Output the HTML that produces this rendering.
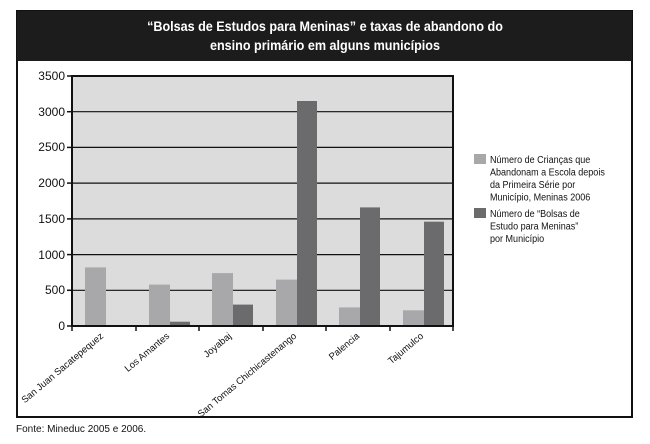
<!DOCTYPE html><html><head><style>body{margin:0;background:#fff}svg{display:block}</style></head><body>
<svg width="650" height="444" xmlns="http://www.w3.org/2000/svg" font-family="Liberation Sans, sans-serif">
<rect x="17" y="11" width="615" height="406" fill="#fff" stroke="#111" stroke-width="2"/>
<rect x="17" y="11" width="615" height="50" fill="#1c1c1c"/>
<g fill="#fff" font-weight="bold" font-size="14" text-anchor="middle">
<text x="325" y="31" transform="translate(325,0) scale(0.9,1) translate(-325,0)">“Bolsas de Estudos para Meninas” e taxas de abandono do</text>
<text x="325" y="50" transform="translate(325,0) scale(0.9,1) translate(-325,0)">ensino primário em alguns municípios</text>
</g>
<rect x="72" y="76" width="381" height="250" fill="#dcdcdc"/>
<g stroke="#111" stroke-width="1.2">
<line x1="72" x2="453" y1="111.7" y2="111.7"/><line x1="72" x2="453" y1="147.4" y2="147.4"/>
<line x1="72" x2="453" y1="183.1" y2="183.1"/><line x1="72" x2="453" y1="218.9" y2="218.9"/>
<line x1="72" x2="453" y1="254.6" y2="254.6"/><line x1="72" x2="453" y1="290.3" y2="290.3"/>
</g>
<g fill="#a8a8aa">
<rect x="85" y="267.4" width="21" height="58.6"/><rect x="149" y="284.6" width="21" height="41.4"/>
<rect x="212" y="273.1" width="21" height="52.9"/><rect x="276" y="279.6" width="21" height="46.4"/>
<rect x="339" y="307.4" width="21" height="18.6"/><rect x="403" y="310.3" width="21" height="15.7"/>
</g>
<g fill="#6b6b6e">
<rect x="170" y="321.7" width="20" height="4.3"/><rect x="233" y="304.6" width="20" height="21.4"/>
<rect x="297" y="101" width="20" height="225"/><rect x="360" y="207.4" width="20" height="118.6"/>
<rect x="424" y="221.7" width="20" height="104.3"/>
</g>
<rect x="72" y="76" width="381" height="250" fill="none" stroke="#111" stroke-width="2"/>
<g stroke="#111" stroke-width="1.5">
<line x1="67" x2="72" y1="76" y2="76"/><line x1="67" x2="72" y1="111.7" y2="111.7"/><line x1="67" x2="72" y1="147.4" y2="147.4"/><line x1="67" x2="72" y1="183.1" y2="183.1"/><line x1="67" x2="72" y1="218.9" y2="218.9"/><line x1="67" x2="72" y1="254.6" y2="254.6"/><line x1="67" x2="72" y1="290.3" y2="290.3"/><line x1="67" x2="72" y1="326" y2="326"/>
<line x1="72" x2="72" y1="326" y2="331"/><line x1="136" x2="136" y1="326" y2="331"/><line x1="199" x2="199" y1="326" y2="331"/><line x1="263" x2="263" y1="326" y2="331"/><line x1="326" x2="326" y1="326" y2="331"/><line x1="390" x2="390" y1="326" y2="331"/><line x1="453" x2="453" y1="326" y2="331"/>
</g>
<g font-size="12" text-anchor="end" fill="#111">
<text x="65" y="80">3500</text><text x="65" y="116">3000</text><text x="65" y="151">2500</text><text x="65" y="187">2000</text><text x="65" y="223">1500</text><text x="65" y="259">1000</text><text x="65" y="294">500</text><text x="65" y="330">0</text>
</g>
<g font-size="9.5" text-anchor="end" fill="#111">
<text transform="translate(104,337) rotate(-40)">San Juan Sacatepequez</text>
<text transform="translate(170,337) rotate(-40)">Los Amantes</text>
<text transform="translate(232,337) rotate(-40)">Joyabaj</text>
<text transform="translate(297,337) rotate(-40)">San Tomas Chichicastenango</text>
<text transform="translate(360,337) rotate(-40)">Palencia</text>
<text transform="translate(424,337) rotate(-40)">Tajumulco</text>
</g>
<rect x="474" y="154" width="12" height="10" fill="#a8a8aa"/>
<rect x="474" y="208" width="12" height="10" fill="#6b6b6e"/>
<g font-size="10.5" fill="#111" transform="translate(490,0) scale(0.86,1)">
<text x="0" y="163">Número de Crianças que</text>
<text x="0" y="175.5">Abandonam a Escola depois</text>
<text x="0" y="188">da Primeira Série por</text>
<text x="0" y="200.5">Município, Meninas 2006</text>
<text x="0" y="217">Número de “Bolsas de</text>
<text x="0" y="229.5">Estudo para Meninas”</text>
<text x="0" y="242">por Município</text>
</g>
<text x="16" y="432" font-size="10" fill="#111">Fonte: Mineduc 2005 e 2006.</text>
</svg>
</body></html>
